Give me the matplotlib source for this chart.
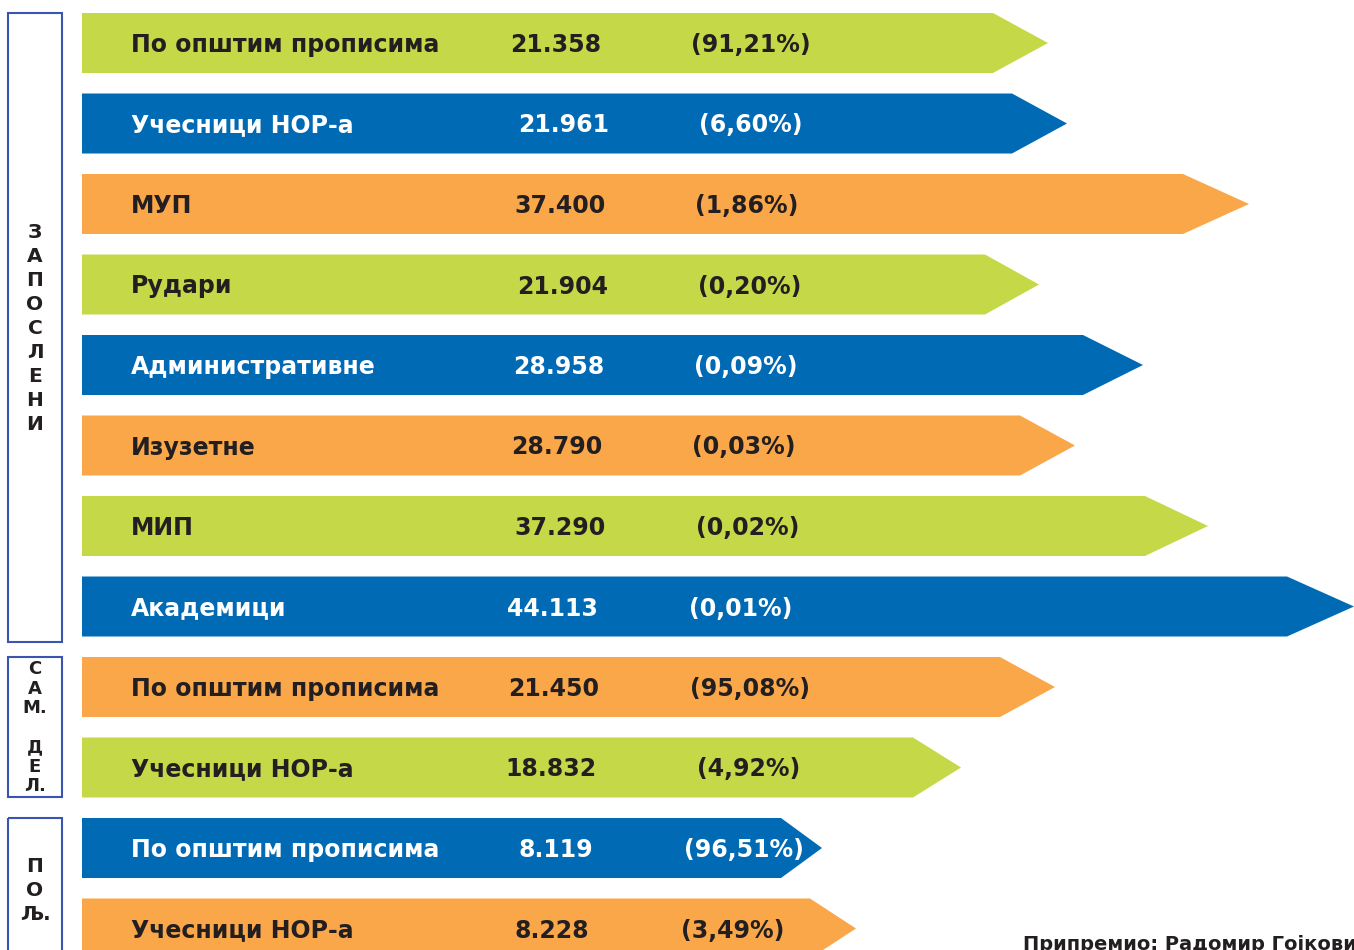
import matplotlib.pyplot as plt
from matplotlib.patches import Polygon, Rectangle

plt.rcParams['font.family'] = ['DejaVu Sans']

# categories / values
labels = ['По општим прописима', 'Учесници НОР-а', 'МУП', 'Рудари',
          'Административне', 'Изузетне', 'МИП', 'Академици',
          'По општим прописима', 'Учесници НОР-а',
          'По општим прописима', 'Учесници НОР-а']
amounts = ['21.358', '21.961', '37.400', '21.904', '28.958', '28.790',
           '37.290', '44.113', '21.450', '18.832', '8.119', '8.228']
shares = ['(91,21%)', '(6,60%)', '(1,86%)', '(0,20%)', '(0,09%)', '(0,03%)',
          '(0,02%)', '(0,01%)', '(95,08%)', '(4,92%)', '(96,51%)', '(3,49%)']
# arrow lengths as drawn (body end and tip, in picture units)
body_end = [993, 1012, 1183, 985, 1083, 1020, 1145, 1287, 1000, 913, 781, 810]
tip_end = [1048, 1067, 1249, 1039, 1143, 1075, 1208, 1354, 1055, 961, 822, 856]
kinds = ['g', 'b', 'o', 'g', 'b', 'o', 'g', 'b', 'o', 'g', 'b', 'o']

# layout
colors = {'g': '#c5d948', 'b': '#006ab4', 'o': '#faa74a'}
text_col = {'g': '#231f20', 'b': 'white', 'o': '#231f20'}
amount_x = [510, 518, 514, 517, 513, 511, 514, 507, 508, 505, 518, 515]
share_x = [691, 699, 695, 698, 694, 692, 696, 689, 690, 697, 684, 681]
y0, step, h, x0 = 43, 80.5, 60, 82
fs = 17

fig = plt.figure(figsize=(13.54, 9.5), dpi=100)
ax = fig.add_axes([0, 0, 1, 1])
ax.set_xlim(0, 1354)
ax.set_ylim(950, 0)
ax.axis('off')

for i, lab in enumerate(labels):
    yc = y0 + i * step
    c = colors[kinds[i]]
    pts = [(x0, yc - h / 2), (body_end[i], yc - h / 2), (tip_end[i], yc),
           (body_end[i], yc + h / 2), (x0, yc + h / 2)]
    ax.add_patch(Polygon(pts, closed=True, facecolor=c, edgecolor='none'))
    tc = text_col[kinds[i]]
    ty = yc + 2
    ax.text(131, ty, lab, color=tc, fontsize=fs, fontweight='bold',
            va='center', ha='left')
    ax.text(amount_x[i], ty, amounts[i], color=tc, fontsize=fs,
            fontweight='bold', va='center', ha='left')
    ax.text(share_x[i], ty, shares[i], color=tc, fontsize=fs,
            fontweight='bold', va='center', ha='left')

# group boxes on the left
boxes = [(13, 642), (657, 797), (818, 980)]
for top, bot in boxes:
    ax.add_patch(Rectangle((8, top), 54, bot - top, facecolor='none',
                           edgecolor='#3a55b0', lw=1.5, clip_on=False))

for k, ch in enumerate('ЗАПОСЛЕНИ'):
    ax.text(35, 233 + k * 24, ch, fontsize=14.5, fontweight='bold',
            color='#231f20', ha='center', va='center')
for k, ch in enumerate(['С', 'А', 'М.', '', 'Д', 'Е', 'Л.']):
    ax.text(35, 669 + k * 19.5, ch, fontsize=13, fontweight='bold',
            color='#231f20', ha='center', va='center')
for k, ch in enumerate(['П', 'О', 'Љ.']):
    ax.text(35, 866 + k * 24, ch, fontsize=14.5, fontweight='bold',
            color='#231f20', ha='center', va='center')

ax.text(1023, 944, 'Припремио: Радомир Гојковић', fontsize=14,
        fontweight='bold', color='#231f20', ha='left', va='center')

fig.savefig('out.png', dpi=100)
